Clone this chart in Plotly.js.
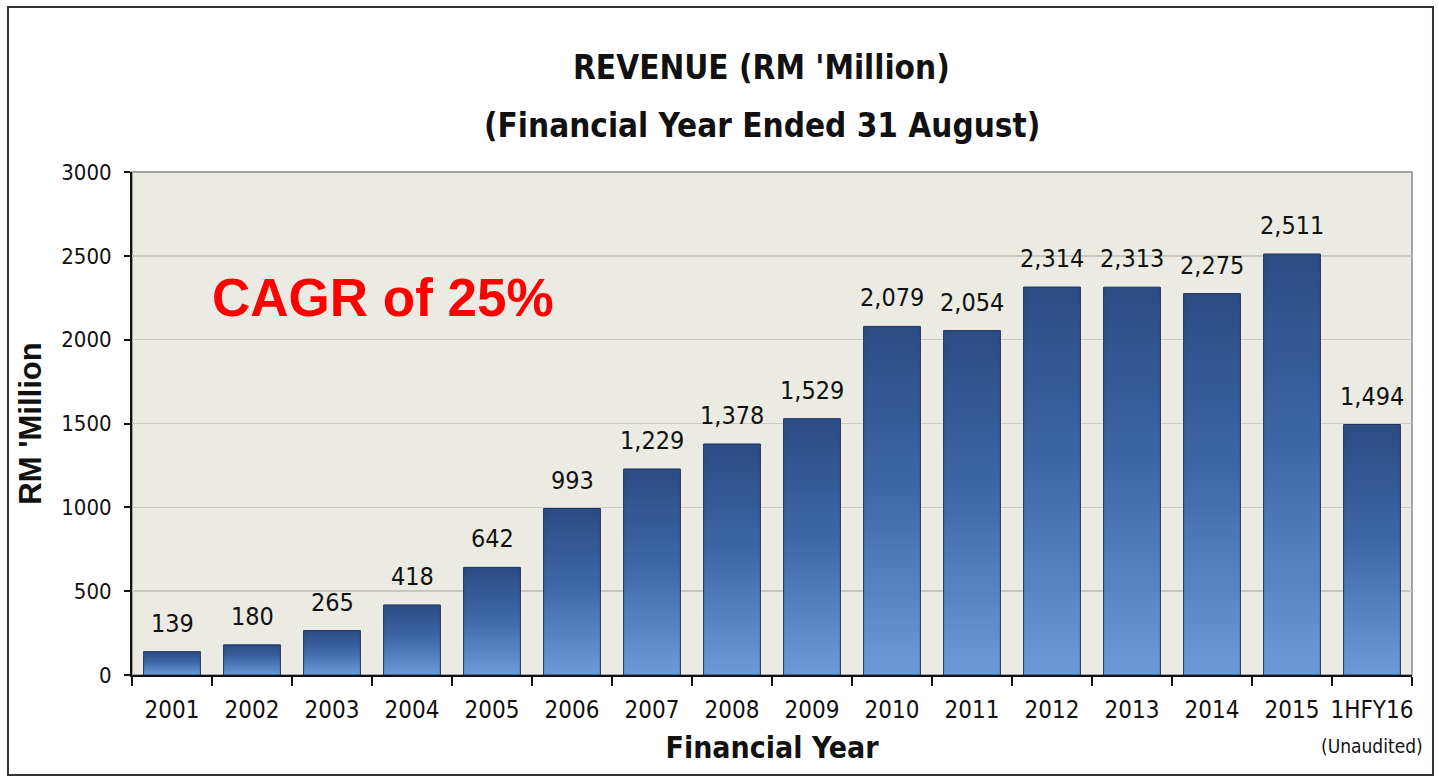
<!DOCTYPE html>
<html>
<head>
<meta charset="utf-8">
<script src="https://cdn.plot.ly/plotly-3.0.1.min.js"></script>
<style>
html,body{margin:0;padding:0;background:#fff;}
#chart{width:1439px;height:776px;}
</style>
</head>
<body>
<div id="chart"></div>
<script>
var categories = ['2001','2002','2003','2004','2005','2006','2007','2008','2009','2010','2011','2012','2013','2014','2015','1HFY16'];
var revenue = [139,180,265,418,642,993,1229,1378,1529,2079,2054,2314,2313,2275,2511,1494];
var yTicks = [0,500,1000,1500,2000,2500,3000];
var titleLines = ["REVENUE (RM 'Million)", "(Financial Year Ended 31 August)"];
var xTitle = 'Financial Year';
var yTitle = "RM 'Million";
var cagrText = 'CAGR of 25%';
var noteText = '(Unaudited)';

var narrow = "'Liberation Sans Narrow','Arial Narrow','DejaVu Sans Condensed','Roboto Condensed',sans-serif";

var trace = {
  type: 'bar',
  x: categories,
  y: revenue,
  marker: {color: '#3d68a8', line: {color: '#1e3460', width: 1}},
  hoverinfo: 'x+y'
};

var annotations = revenue.map(function(v, i){
  return {
    x: i, y: v, xref: 'x', yref: 'y',
    text: v.toLocaleString('en-US'),
    showarrow: false, yanchor: 'bottom', yshift: 12,
    font: {family: narrow, size: 25, color: '#111'}
  };
});
annotations.push({
  x: 0.492, y: 1.207, xref: 'paper', yref: 'paper', showarrow: false,
  xanchor: 'center', yanchor: 'middle',
  text: titleLines[0], font: {family: narrow, size: 33, color: '#111', weight: 'bold'}
});
annotations.push({
  x: 0.492, y: 1.093, xref: 'paper', yref: 'paper', showarrow: false,
  xanchor: 'center', yanchor: 'middle',
  text: titleLines[1], font: {family: narrow, size: 33, color: '#111', weight: 'bold'}
});
annotations.push({
  x: 0.196, y: 0.75, xref: 'paper', yref: 'paper', showarrow: false,
  xanchor: 'center', yanchor: 'middle',
  text: cagrText, font: {family: "'Liberation Sans',Arial,sans-serif", size: 53, color: '#ff0000', weight: 'bold'}
});
annotations.push({
  x: categories.length - 1, y: -0.141, xref: 'x', yref: 'paper', showarrow: false,
  xanchor: 'center', yanchor: 'middle',
  text: noteText, font: {family: narrow, size: 19, color: '#111'}
});

var layout = {
  width: 1439, height: 776,
  margin: {l: 132, r: 27, t: 172, b: 101},
  paper_bgcolor: '#ffffff',
  plot_bgcolor: '#ecebe3',
  showlegend: false,
  bargap: 0.29,
  xaxis: {
    type: 'category',
    range: [-0.5, categories.length - 0.5],
    tickson: 'boundaries',
    ticks: 'outside', ticklen: 9, tickwidth: 2, tickcolor: '#111',
    showline: true, linecolor: '#111', linewidth: 2,
    ticklabelstandoff: 12,
    tickangle: 0,
    tickfont: {family: narrow, size: 24, color: '#111'},
    title: {text: xTitle, standoff: 14, font: {family: narrow, size: 30, color: '#111', weight: 'bold'}},
    showgrid: false, zeroline: false, fixedrange: true
  },
  yaxis: {
    range: [0, 3000],
    tickvals: yTicks,
    ticktext: yTicks.map(String),
    ticks: 'outside', ticklen: 6, tickwidth: 2, tickcolor: '#111',
    showline: true, linecolor: '#111', linewidth: 2,
    ticklabelstandoff: 8,
    tickfont: {family: narrow, size: 22, color: '#111'},
    title: {text: yTitle, standoff: 10, font: {family: "'Liberation Sans',Arial,sans-serif", size: 31, color: '#111', weight: 'bold'}},
    showgrid: true, gridcolor: '#c9c8c0', gridwidth: 1.5,
    zeroline: false, fixedrange: true
  },
  shapes: [
    {type: 'rect', xref: 'paper', yref: 'paper', x0: 0, x1: 1, y0: 0, y1: 1,
     line: {color: '#8a8a8a', width: 1.5}, layer: 'below'},
    {type: 'rect', xref: 'paper', yref: 'paper', x0: -0.0969, x1: 1.0164, y0: -0.199, y1: 1.328,
     line: {color: '#333', width: 2}, fillcolor: 'rgba(0,0,0,0)'}
  ],
  annotations: annotations
};

Plotly.newPlot('chart', [trace], layout, {displayModeBar: false, staticPlot: true}).then(function(gd){
  var svg = gd.querySelector('svg.main-svg');
  var ns = 'http://www.w3.org/2000/svg';
  var defs = svg.querySelector('defs') || svg.insertBefore(document.createElementNS(ns,'defs'), svg.firstChild);
  var grad = document.createElementNS(ns, 'linearGradient');
  grad.setAttribute('id', 'barGrad');
  grad.setAttribute('x1','0'); grad.setAttribute('y1','0');
  grad.setAttribute('x2','0'); grad.setAttribute('y2','1');
  [['0%','#2c4c82'],['45%','#3c66a6'],['100%','#6a9bd8']].forEach(function(s){
    var st = document.createElementNS(ns,'stop');
    st.setAttribute('offset', s[0]); st.setAttribute('stop-color', s[1]);
    grad.appendChild(st);
  });
  defs.appendChild(grad);
  gd.querySelectorAll('.barlayer .point path').forEach(function(p){
    p.style.fill = 'url(#barGrad)';
  });
});
</script>
</body>
</html>
